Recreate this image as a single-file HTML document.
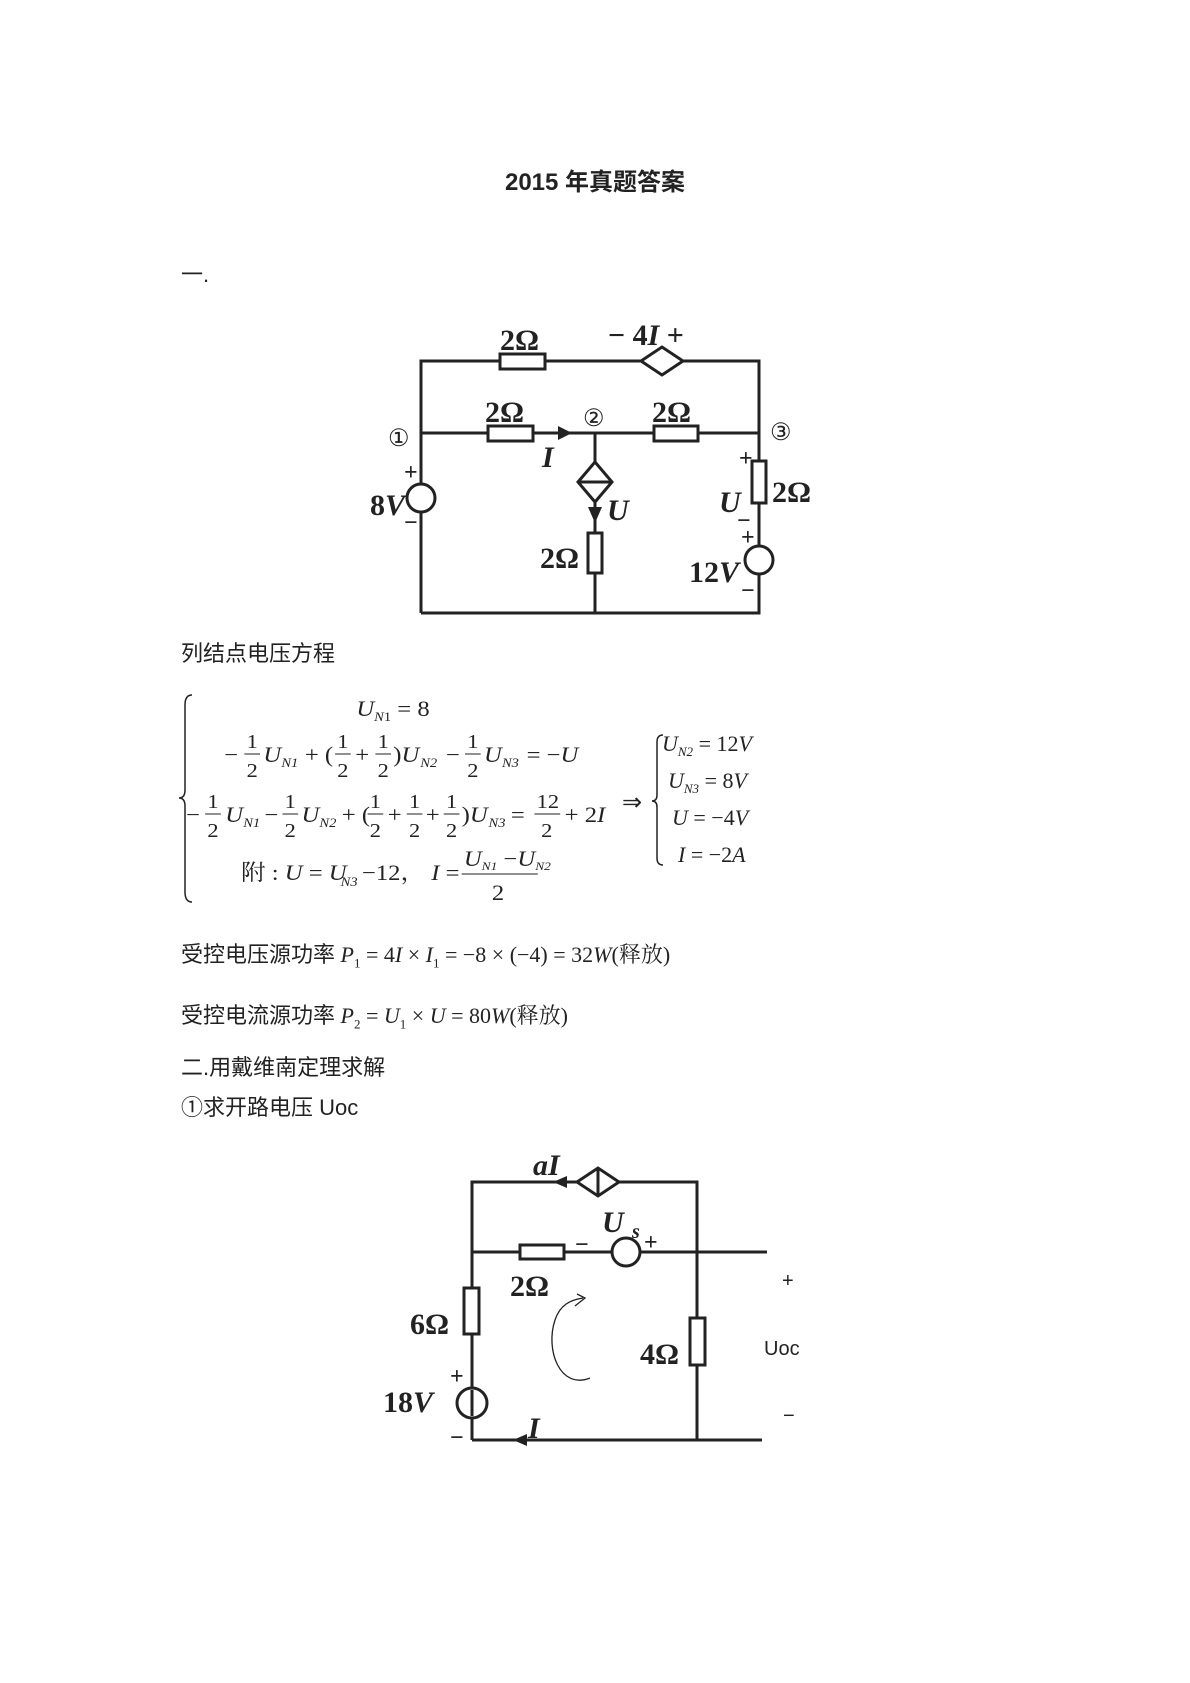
<!DOCTYPE html>
<html><head><meta charset="utf-8"><style>
html,body{margin:0;padding:0;background:#fff;}
body{width:1190px;height:1683px;position:relative;overflow:hidden;font-family:"Liberation Serif","Noto Serif CJK SC",serif;}
.t{position:absolute;font-size:22px;color:#222;white-space:nowrap;}
</style></head><body>
<div class="t" style="left:0;width:1190px;text-align:center;top:162px;font-family:'Liberation Sans','Noto Sans CJK SC',sans-serif;font-weight:bold;font-size:24px;">2015 年真题答案</div>
<div class="t" style="left:181px;top:257px;font-family:'Liberation Sans','Noto Sans CJK SC',sans-serif;">一.</div>
<div class="t" style="left:181px;top:636px;font-family:'Liberation Sans','Noto Sans CJK SC',sans-serif;">列结点电压方程</div>
<div class="t" style="left:181px;top:937px;"><span style="font-family:'Noto Sans CJK SC',sans-serif">受控电压源功率</span> <i>P</i><sub style="font-size:13px">1</sub> = 4<i>I</i> × <i>I</i><sub style="font-size:13px">1</sub> = −8 × (−4) = 32<i>W</i>(释放)</div>
<div class="t" style="left:181px;top:998px;"><span style="font-family:'Noto Sans CJK SC',sans-serif">受控电流源功率</span> <i>P</i><sub style="font-size:13px">2</sub> = <i>U</i><sub style="font-size:13px">1</sub> × <i>U</i> = 80<i>W</i>(释放)</div>
<div class="t" style="left:181px;top:1050px;font-family:'Liberation Sans','Noto Sans CJK SC',sans-serif;">二.用戴维南定理求解</div>
<div class="t" style="left:181px;top:1090px;font-family:'Liberation Sans','Noto Sans CJK SC',sans-serif;">①求开路电压 Uoc</div>

<svg width="1190" height="1683" style="position:absolute;left:0;top:0" xmlns="http://www.w3.org/2000/svg">
<g stroke="#222" stroke-width="3" fill="none">
<polyline points="421,613 421,361 759,361 759,613 421,613"/>
<line x1="421" y1="433" x2="759" y2="433"/>
<line x1="595" y1="433" x2="595" y2="613"/>
<rect x="500" y="354" width="45" height="15" fill="#fff"/>
<polygon points="641,361 662,347 683,361 662,375" fill="#fff"/>
<rect x="488" y="426" width="45" height="15" fill="#fff"/>
<rect x="654" y="426" width="44" height="15" fill="#fff"/>
<circle cx="421" cy="498" r="14" fill="#fff"/>
<polygon points="595,462 612,482 595,502 578,482" fill="#fff"/>
<line x1="578" y1="482" x2="612" y2="482"/>
<rect x="588" y="533" width="14" height="40" fill="#fff"/>
<rect x="752" y="461" width="14" height="42" fill="#fff"/>
<circle cx="759" cy="560" r="14" fill="#fff"/>
<polyline points="472,1440 472,1182 697,1182 697,1440"/>
<line x1="472" y1="1252" x2="767" y2="1252"/>
<line x1="472" y1="1440" x2="762" y2="1440"/>
<rect x="520" y="1245" width="44" height="14" fill="#fff"/>
<circle cx="626" cy="1252" r="14" fill="#fff"/>
<polygon points="577,1182 598,1168 619,1182 598,1196" fill="#fff"/>
<line x1="598" y1="1168" x2="598" y2="1196"/>
<rect x="464" y="1288" width="15" height="46" fill="#fff"/>
<circle cx="472" cy="1403" r="15" fill="#fff"/>
<line x1="472" y1="1390" x2="472" y2="1416"/>
<rect x="690" y="1318" width="15" height="47" fill="#fff"/>
<path d="M590,1378 C560,1390 545,1350 555,1320 C560,1305 570,1300 583,1298" stroke-width="1.3"/>
<path d="M575,1306 L585,1298 L577,1294" stroke-width="1.3"/>
<path d="M192,695 Q185,695 185,705 L185,790 Q185,798 179,798 Q185,798 185,806 L185,892 Q185,902 192,902" stroke-width="1.5"/>
<path d="M663,735 Q657,735 657,742 L657,795 Q657,801 652,801 Q657,801 657,807 L657,858 Q657,865 663,865" stroke-width="1.5"/>
</g>
<g fill="#222">
<polygon points="572,433 558,426 558,440"/>
<polygon points="595,523 588,507 602,507"/>
<polygon points="553,1182 567,1176 567,1188"/>
<polygon points="513,1440 527,1434 527,1446"/>
</g>
<g font-family="Liberation Serif,serif" font-weight="bold" font-size="30" fill="#222">
<text x="500" y="350">2Ω</text>
<text x="485" y="422">2Ω</text>
<text x="652" y="422">2Ω</text>
<text x="608" y="345">− 4<tspan font-style="italic">I</tspan> +</text>
<text x="370" y="515">8<tspan font-style="italic">V</tspan></text>
<text x="404" y="480" font-size="24">+</text>
<text x="404" y="530" font-size="24">−</text>
<text x="540" y="568">2Ω</text>
<text x="772" y="502">2Ω</text>
<text x="719" y="512" font-style="italic">U</text>
<text x="739" y="466" font-size="24">+</text>
<text x="737" y="528" font-size="24">−</text>
<text x="741" y="545" font-size="24">+</text>
<text x="689" y="582">12<tspan font-style="italic">V</tspan></text>
<text x="741" y="598" font-size="24">−</text>
<text x="542" y="467" font-style="italic">I</text>
<text x="607" y="520" font-style="italic">U</text>
<text x="533" y="1175" font-style="italic">aI</text>
<text x="602" y="1232" font-style="italic">U</text>
<text x="632" y="1238" font-size="20" font-style="italic">s</text>
<text x="644" y="1250" font-size="24">+</text>
<text x="575" y="1252" font-size="24">−</text>
<text x="510" y="1296">2Ω</text>
<text x="410" y="1334">6Ω</text>
<text x="640" y="1364">4Ω</text>
<text x="383" y="1412">18<tspan font-style="italic">V</tspan></text>
<text x="450" y="1384" font-size="24">+</text>
<text x="450" y="1445" font-size="24">−</text>
<text x="528" y="1438" font-style="italic">I</text>
</g>
<g font-family="Liberation Serif,serif" font-size="24" fill="#222">
<text x="388" y="446">①</text>
<text x="583" y="426">②</text>
<text x="770" y="440">③</text>
</g>
<g font-family="Liberation Sans,sans-serif" font-size="20" fill="#222">
<text x="782" y="1287">+</text>
<text x="764" y="1355">Uoc</text>
<text x="783" y="1422">−</text>
</g>
<g font-family="Liberation Serif,'Noto Serif CJK SC',serif" font-size="22" fill="#222" transform="translate(185,0) scale(1.12,1) translate(-185,0)">
<text x="338" y="716"><tspan font-style="italic">U</tspan><tspan font-size="13" dy="5" font-style="italic">N</tspan><tspan font-size="13">1</tspan><tspan dy="-5"> = 8</tspan></text>
<text x="220" y="762">−</text>
<text x="240" y="748" font-size="20">1</text><line x1="238" y1="754" x2="252" y2="754" stroke="#222"/><text x="240" y="777" font-size="20">2</text>
<text x="255" y="762" font-style="italic">U</text><text x="271" y="767" font-size="13" font-style="italic">N1</text>
<text x="292" y="762">+ (</text>
<text x="321" y="748" font-size="20">1</text><line x1="319" y1="754" x2="333" y2="754" stroke="#222"/><text x="321" y="777" font-size="20">2</text>
<text x="337" y="762">+</text>
<text x="357" y="748" font-size="20">1</text><line x1="355" y1="754" x2="369" y2="754" stroke="#222"/><text x="357" y="777" font-size="20">2</text>
<text x="371" y="762">)<tspan font-style="italic">U</tspan></text><text x="395" y="767" font-size="13" font-style="italic">N2</text>
<text x="418" y="762">−</text>
<text x="437" y="748" font-size="20">1</text><line x1="435" y1="754" x2="449" y2="754" stroke="#222"/><text x="437" y="777" font-size="20">2</text>
<text x="452" y="762" font-style="italic">U</text><text x="468" y="767" font-size="13" font-style="italic">N3</text>
<text x="490" y="762">= −<tspan font-style="italic">U</tspan></text>
<text x="186" y="822">−</text>
<text x="205" y="808" font-size="20">1</text><line x1="203" y1="814" x2="217" y2="814" stroke="#222"/><text x="205" y="837" font-size="20">2</text>
<text x="221" y="822" font-style="italic">U</text><text x="237" y="827" font-size="13" font-style="italic">N1</text>
<text x="256" y="822">−</text>
<text x="274" y="808" font-size="20">1</text><line x1="272" y1="814" x2="286" y2="814" stroke="#222"/><text x="274" y="837" font-size="20">2</text>
<text x="289" y="822" font-style="italic">U</text><text x="305" y="827" font-size="13" font-style="italic">N2</text>
<text x="325" y="822">+ (</text>
<text x="350" y="808" font-size="20">1</text><line x1="348" y1="814" x2="362" y2="814" stroke="#222"/><text x="350" y="837" font-size="20">2</text>
<text x="366" y="822">+</text>
<text x="385" y="808" font-size="20">1</text><line x1="383" y1="814" x2="397" y2="814" stroke="#222"/><text x="385" y="837" font-size="20">2</text>
<text x="400" y="822">+</text>
<text x="418" y="808" font-size="20">1</text><line x1="416" y1="814" x2="430" y2="814" stroke="#222"/><text x="418" y="837" font-size="20">2</text>
<text x="432" y="822">)<tspan font-style="italic">U</tspan></text><text x="456" y="827" font-size="13" font-style="italic">N3</text>
<text x="476" y="822">=</text>
<text x="499" y="808" font-size="20">12</text><line x1="497" y1="814" x2="520" y2="814" stroke="#222"/><text x="503" y="837" font-size="20">2</text>
<text x="524" y="822">+ 2<tspan font-style="italic">I</tspan></text>
<text x="235" y="880">附 : <tspan font-style="italic">U</tspan> = <tspan font-style="italic">U</tspan></text>
<text x="324" y="886" font-size="13" font-style="italic">N3</text>
<text x="343" y="880">−12， <tspan font-style="italic">I</tspan> =</text>
<line x1="432" y1="874" x2="500" y2="874" stroke="#222"/>
<text x="434" y="866"><tspan font-style="italic">U</tspan><tspan font-size="12" dy="4" font-style="italic">N1</tspan><tspan dy="-4"> −</tspan><tspan font-style="italic">U</tspan><tspan font-size="12" dy="4" font-style="italic">N2</tspan></text>
<text x="459" y="900">2</text>
</g>
<g font-family="Liberation Serif,serif" font-size="22" fill="#222">
<text x="622" y="810" font-size="24">⇒</text>
<text x="662" y="751"><tspan font-style="italic">U</tspan><tspan font-size="13" dy="5" font-style="italic">N2</tspan><tspan dy="-5"> = 12</tspan><tspan font-style="italic">V</tspan></text>
<text x="668" y="788"><tspan font-style="italic">U</tspan><tspan font-size="13" dy="5" font-style="italic">N3</tspan><tspan dy="-5"> = 8</tspan><tspan font-style="italic">V</tspan></text>
<text x="672" y="825"><tspan font-style="italic">U</tspan> = −4<tspan font-style="italic">V</tspan></text>
<text x="678" y="862"><tspan font-style="italic">I</tspan> = −2<tspan font-style="italic">A</tspan></text>
</g>
</svg>
</body></html>
